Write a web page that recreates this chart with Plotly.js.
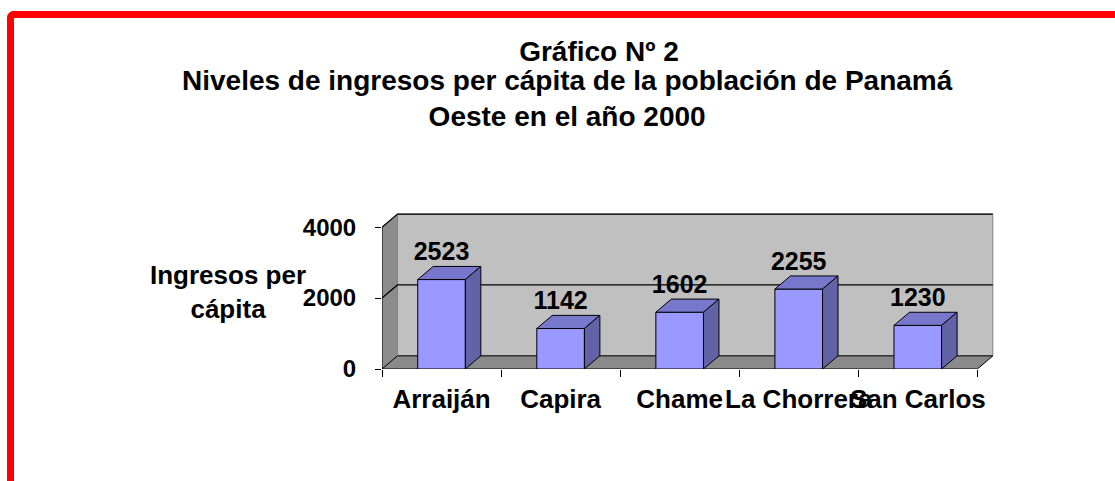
<!DOCTYPE html>
<html>
<head>
<meta charset="utf-8">
<script src="https://cdn.plot.ly/plotly-3.0.1.min.js"></script>
<style>
  html, body { margin: 0; padding: 0; background: #ffffff; overflow: hidden; }
  #wrap { position: relative; width: 1115px; height: 481px; }
  #chart { width: 1115px; height: 481px; }
  #frame { position: absolute; left: 7px; top: 11px; width: 1300px; height: 700px;
           border-left: 7px solid #FF0000; border-top: 7px solid #FF0000;
           border-top-left-radius: 7px; pointer-events: none; box-sizing: border-box; }
</style>
</head>
<body>
<div id="wrap">
  <div id="chart"></div>
  <div id="frame"></div>
</div>
<script>
// ---- data ----
const categories = ['Arraiján', 'Capira', 'Chame', 'La Chorrera', 'San Carlos'];
const values = [2523, 1142, 1602, 2255, 1230];
const yTickVals = [0, 2000, 4000];
const titleLine1 = 'Gráfico Nº 2';
const titleRest = 'Niveles de ingresos per cápita de la población de Panamá<br>Oeste en el año 2000';
const yAxisTitle = 'Ingresos per<br>cápita';

// ---- 3D look parameters (styling only) ----
const DX = 0.13;   // depth offset in category units
const DY = 370;    // depth offset in value units
const HW = 0.2;    // half bar width
const FONT = 'Liberation Sans, Arial, sans-serif';

const xs = categories.map((c, i) => i);
const yMaxTick = yTickVals[yTickVals.length - 1];
const xL = -0.5, xR = categories.length - 0.5;

// top and side faces of the bars derived from the data
const topX = [], topY = [], sideX = [], sideY = [];
xs.forEach((x, i) => {
  const v = values[i];
  topX.push(x - HW, x - HW + DX, x + HW + DX, x + HW, x - HW, null);
  topY.push(v, v + DY, v + DY, v, v, null);
  sideX.push(x + HW, x + HW, x + HW + DX, x + HW + DX, x + HW, null);
  sideY.push(0, v, v + DY, DY, 0, null);
});

const traces = [
  { type: 'bar', x: xs, y: values, width: 2 * HW,
    marker: { color: '#9999FF', line: { color: '#000000', width: 1 } },
    hoverinfo: 'skip' },
  { type: 'scatter', x: topX, y: topY, mode: 'lines', fill: 'toself',
    fillcolor: '#7777CC', line: { color: '#000000', width: 1 }, hoverinfo: 'skip' },
  { type: 'scatter', x: sideX, y: sideY, mode: 'lines', fill: 'toself',
    fillcolor: '#6262A6', line: { color: '#000000', width: 1 }, hoverinfo: 'skip' },
  { type: 'scatter', x: xs, y: values.map(v => v + DY), mode: 'text',
    text: values.map(String), textposition: 'top center', cliponaxis: false,
    textfont: { family: FONT, size: 25, color: '#000000', weight: 'bold' },
    hoverinfo: 'skip' }
];

const shapes = [
  // left side wall
  { type: 'path', xref: 'x', yref: 'y', layer: 'below',
    path: `M ${xL},0 L ${xL},${yMaxTick} L ${xL + DX},${yMaxTick + DY} L ${xL + DX},${DY} Z`,
    fillcolor: '#8C8C8C', line: { color: '#808080', width: 1 } },
  // back wall
  { type: 'rect', xref: 'x', yref: 'y', layer: 'below',
    x0: xL + DX, x1: xR + DX, y0: DY, y1: yMaxTick + DY,
    fillcolor: '#C0C0C0', line: { color: '#808080', width: 1 } },
  // floor
  { type: 'path', xref: 'x', yref: 'y', layer: 'below',
    path: `M ${xL},0 L ${xR},0 L ${xR + DX},${DY} L ${xL + DX},${DY} Z`,
    fillcolor: '#8A8A8A', line: { color: '#000000', width: 1 } }
];
// gridlines on the walls
yTickVals.filter(t => t > 0).forEach(t => {
  shapes.push({ type: 'path', xref: 'x', yref: 'y', layer: 'below',
    path: `M ${xL},${t} L ${xL + DX},${t + DY} L ${xR + DX},${t + DY}`,
    line: { color: '#000000', width: 1.2 } });
});
// front value axis line
shapes.push({ type: 'line', xref: 'x', yref: 'y', layer: 'below',
  x0: xL, x1: xL, y0: 0, y1: yMaxTick, line: { color: '#000000', width: 1 } });

const annotations = [
  { xref: 'paper', yref: 'paper', x: (567 - 382) / 612, y: (369 - 99) / 156,
    xanchor: 'center', yanchor: 'middle', showarrow: false, align: 'center',
    text: titleRest, font: { family: FONT, size: 28, color: '#000000', weight: 'bold' } },
  { xref: 'paper', yref: 'paper', x: (228 - 382) / 612, y: (369 - 292) / 156,
    xanchor: 'center', yanchor: 'middle', showarrow: false, align: 'center',
    text: yAxisTitle, font: { family: FONT, size: 26, color: '#000000', weight: 'bold' } }
];

const layout = {
  width: 1115, height: 481, autosize: false,
  margin: { l: 382, r: 121, t: 213, b: 112, pad: 0 },
  paper_bgcolor: '#ffffff', plot_bgcolor: 'rgba(0,0,0,0)',
  showlegend: false,
  title: { text: titleLine1, xref: 'container', yref: 'container',
    x: 599 / 1115, xanchor: 'center', y: 1 - 51 / 481, yanchor: 'middle',
    font: { family: FONT, size: 28, color: '#000000', weight: 'bold' } },
  xaxis: { range: [xL, xR + 0.14], tickmode: 'array', tickvals: xs, ticktext: categories,
    ticks: '', tickangle: 0, showline: false, showgrid: false, zeroline: false,
    ticklabelstandoff: 12,
    tickfont: { family: FONT, size: 26, color: '#000000', weight: 'bold' },
    minor: { ticks: 'outside', tick0: 0.5, dtick: 1, ticklen: 7, tickcolor: '#000000',
      tickwidth: 1, showgrid: false } },
  yaxis: { range: [0, 4400], tickmode: 'array', tickvals: yTickVals,
    ticks: 'outside', ticklen: 6, tickcolor: '#000000', tickwidth: 1,
    showline: false, showgrid: false, zeroline: false, ticklabelstandoff: 14,
    tickfont: { family: FONT, size: 24, color: '#000000', weight: 'bold' } },
  shapes: shapes,
  annotations: annotations
};

Plotly.newPlot('chart', traces, layout, { staticPlot: true, displayModeBar: false });
</script>
</body>
</html>
